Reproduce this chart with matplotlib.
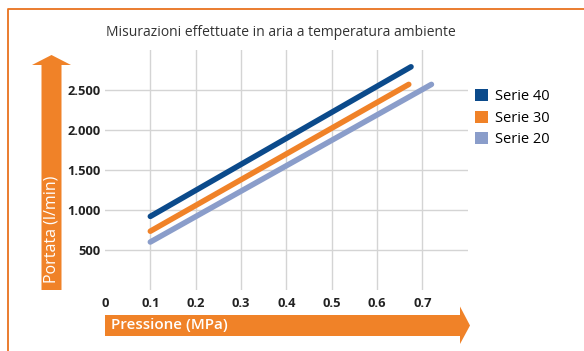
import matplotlib
matplotlib.use("Agg")
import matplotlib.pyplot as plt
from matplotlib.patches import Polygon, Patch
from matplotlib.lines import Line2D

plt.rcParams['font.family'] = ['Open Sans', 'DejaVu Sans']

# dati delle curve (pressione MPa -> portata l/min)
pressione_40 = [0.1, 0.675]
portata_40 = [920, 2790]
pressione_30 = [0.1, 0.67]
portata_30 = [735, 2570]
pressione_20 = [0.1, 0.72]
portata_20 = [600, 2570]

serie = ['Serie 40', 'Serie 30', 'Serie 20']
colori = ['#0b4a8b', '#f08228', '#8a9dca']

x_ticks = [0, 0.1, 0.2, 0.3, 0.4, 0.5, 0.6, 0.7]
x_labels = ['0', '0.1', '0.2', '0.3', '0.4', '0.5', '0.6', '0.7']
y_ticks = [500, 1000, 1500, 2000, 2500]
y_labels = ['500', '1.000', '1.500', '2.000', '2.500']

W, H = 584, 351
ARANCIO = '#f08228'


def px(x, y):
    # pixel (origine in alto a sinistra) -> coordinate figura
    return (x / W, 1 - y / H)


fig = plt.figure(figsize=(W / 100, H / 100), dpi=100)
ax = fig.add_axes([105 / W, 1 - 290 / H, (467.7 - 105) / W, (290 - 50) / H])

ax.set_xlim(0, 0.8)
ax.set_ylim(0, 3000)
for s in ax.spines.values():
    s.set_visible(False)

# griglia manuale (solo linee interne)
for xv in x_ticks[1:]:
    ax.axvline(xv, color='#d4d4d4', lw=1, zorder=1)
for yv in y_ticks:
    ax.axhline(yv, color='#d4d4d4', lw=1, zorder=1)

ax.set_xticks(x_ticks)
ax.set_xticklabels(x_labels)
ax.set_yticks(y_ticks)
ax.set_yticklabels(y_labels)
ax.tick_params(axis='both', length=0, labelsize=9.3, colors='#222222')
ax.tick_params(axis='x', pad=5)
ax.tick_params(axis='y', pad=3)
for lab in ax.get_xticklabels() + ax.get_yticklabels():
    lab.set_fontweight('bold')

ax.plot(pressione_40, portata_40, color=colori[0], lw=4, solid_capstyle='round', zorder=3)
ax.plot(pressione_30, portata_30, color=colori[1], lw=4, solid_capstyle='round', zorder=3)
ax.plot(pressione_20, portata_20, color=colori[2], lw=4, solid_capstyle='round', zorder=3)

fig.text(*px(281, 33), 'Misurazioni effettuate in aria a temperatura ambiente',
         ha='center', va='center', fontsize=10, color='#333333')

# freccia verticale (asse portata)
freccia_y = [px(41.5, 290), px(41.5, 65), px(32, 65), px(51.5, 55),
             px(71, 65), px(61.5, 65), px(61.5, 290)]
fig.patches.append(Polygon(freccia_y, closed=True, transform=fig.transFigure,
                           facecolor=ARANCIO, edgecolor='none'))
fig.text(*px(52, 229), 'Portata (l/min)', rotation=90, ha='center', va='center',
         fontsize=11.5, color='white')

# freccia orizzontale (asse pressione)
freccia_x = [px(105, 315), px(460, 315), px(460, 306.5), px(470, 325.5),
             px(460, 344), px(460, 336), px(105, 336)]
fig.patches.append(Polygon(freccia_x, closed=True, transform=fig.transFigure,
                           facecolor=ARANCIO, edgecolor='none'))
fig.text(*px(111, 325.5), 'Pressione (MPa)', ha='left', va='center',
         fontsize=11, fontweight='semibold', color='white')

# cornice arancione
fig.lines.append(Line2D([8 / W, 8 / W, 1], [0, 1 - 9 / H, 1 - 9 / H],
                        transform=fig.transFigure, color='#e8721f', lw=1.3))

handles = [Patch(facecolor=c, edgecolor='none') for c in colori]
fig.legend(handles, serie, loc='upper left', bbox_to_anchor=px(472, 86),
           frameon=False, fontsize=10.5, handlelength=0.9, handleheight=0.9,
           handletextpad=0.5, labelspacing=0.45, borderaxespad=0, borderpad=0.2)

fig.savefig('out.png', dpi=100)
